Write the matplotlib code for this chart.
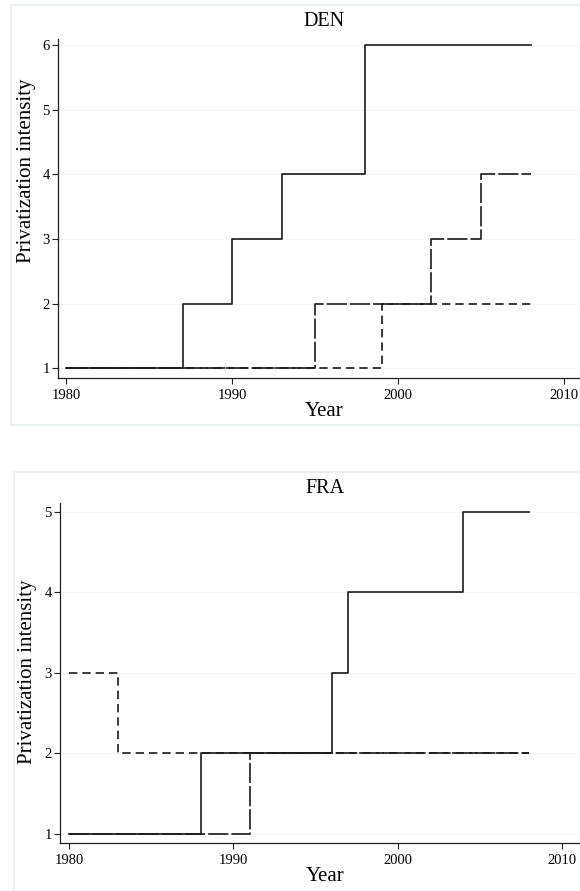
import matplotlib
matplotlib.use("Agg")
import matplotlib.pyplot as plt
from matplotlib.patches import Rectangle

plt.rcParams['font.family'] = ['Liberation Serif', 'DejaVu Serif']
plt.rcParams['lines.scale_dashes'] = False

# DEN data (step "post": value holds from year until next year)
den_solid_years = [1980, 1987, 1990, 1993, 1998, 2008]
den_solid_vals = [1, 2, 3, 4, 6, 6]
den_short_years = [1980, 1999, 2008]
den_short_vals = [1, 2, 2]
den_long_years = [1980, 1995, 2002, 2005, 2008]
den_long_vals = [1, 2, 3, 4, 4]

# FRA data
fra_solid_years = [1980, 1988, 1996, 1997, 2004, 2008]
fra_solid_vals = [1, 2, 3, 4, 5, 5]
fra_short_years = [1980, 1983, 2008]
fra_short_vals = [3, 2, 2]
fra_long_years = [1980, 1991, 2008]
fra_long_vals = [1, 2, 2]

x_ticks = [1980, 1990, 2000, 2010]

W, H = 580, 891
fig = plt.figure(figsize=(W / 100, H / 100), dpi=100)

# panel frames
fig.patches.append(Rectangle((11 / W, 1 - 425 / H), 1.0, (425 - 5) / H, transform=fig.transFigure,
                             fill=False, edgecolor='#e6eef0', lw=1.2))
fig.patches.append(Rectangle((13.5 / W, -0.01), 1.0, 1 - 472 / H + 0.01, transform=fig.transFigure,
                             fill=False, edgecolor='#e6eef0', lw=1.2))

line_color = '#1a1a1a'
short_ls = (0, (6.0, 3.6))
long_ls = (0, (14.5, 2.2))


def setup(ax, title, yticks, ylab_x, ylab_y, tpad):
    ax.set_title(title, fontsize=14.5, pad=tpad)
    ax.set_xlabel('Year', fontsize=15, labelpad=0)
    ax.set_ylabel('Privatization intensity', fontsize=15, va='center')
    ax.yaxis.set_label_coords(ylab_x, ylab_y)
    ax.set_xticks(x_ticks)
    ax.set_yticks(yticks)
    ax.tick_params(labelsize=10.5, length=4, width=0.8, color='#222222', pad=2)
    ax.tick_params(axis='x', pad=4)
    ax.spines['top'].set_visible(False)
    ax.spines['right'].set_visible(False)
    for s in ('left', 'bottom'):
        ax.spines[s].set_color('#222222')
        ax.spines[s].set_linewidth(0.9)
    ax.yaxis.grid(True, color='#e4eef0', lw=0.9, linestyle=(0, (1, 1)))
    ax.set_axisbelow(True)


def pix_axes(left, right, top, bottom):
    return [left / W, 1 - bottom / H, (right - left) / W, (bottom - top) / H]


# top panel (DEN)
l1, r1, t1, b1 = 58.0, 590.0, 38.5, 377.7
ax1 = fig.add_axes(pix_axes(l1, r1, t1, b1))
ax1.step(den_solid_years, den_solid_vals, where='post', color=line_color, lw=1.2)
ax1.step(den_short_years, den_short_vals, where='post', color=line_color, lw=1.2, linestyle=short_ls)
ax1.step(den_long_years, den_long_vals, where='post', color=line_color, lw=1.2, linestyle=long_ls)
ax1.set_xlim(1979.49, 2011.56)
ax1.set_ylim(0.855, 6.10)
setup(ax1, 'DEN', [1, 2, 3, 4, 5, 6], (27 - l1) / (r1 - l1), (b1 - 171) / (b1 - t1), 9)

# bottom panel (FRA)
l2, r2, t2, b2 = 60.0, 590.0, 502.7, 843.3
ax2 = fig.add_axes(pix_axes(l2, r2, t2, b2))
ax2.step(fra_solid_years, fra_solid_vals, where='post', color=line_color, lw=1.2)
ax2.step(fra_short_years, fra_short_vals, where='post', color=line_color, lw=1.2, linestyle=short_ls)
ax2.step(fra_long_years, fra_long_vals, where='post', color=line_color, lw=1.2, linestyle=long_ls)
ax2.set_xlim(1979.44, 2011.7)
ax2.set_ylim(0.885, 5.11)
setup(ax2, 'FRA', [1, 2, 3, 4, 5], (28 - l2) / (r2 - l2), (b2 - 672) / (b2 - t2), 7)

fig.savefig('out.png', dpi=100)
